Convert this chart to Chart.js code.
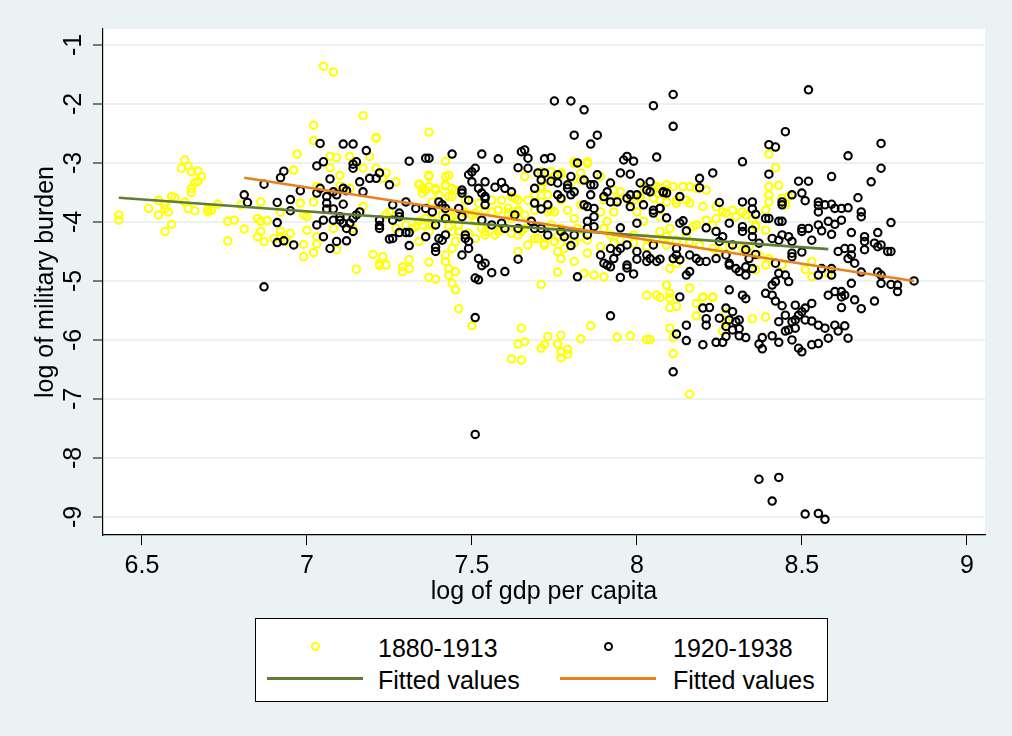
<!DOCTYPE html>
<html>
<head>
<meta charset="utf-8">
<script src="https://cdn.jsdelivr.net/npm/chart.js@4.4.1/dist/chart.umd.min.js"></script>
<style>
  html, body { margin: 0; padding: 0; background: #eaf2f3; }
  #wrap { position: relative; width: 1012px; height: 736px; }
  #chart { position: absolute; left: 0; top: 0; }
  .legend { position: absolute; left: 255px; top: 618px; width: 573px; height: 84px;
            background: #fff; border: 1px solid #000; box-sizing: border-box;
            font-family: "Liberation Sans", Arial, sans-serif; font-size: 25px; color: #000; }
  .lg { position: absolute; line-height: 30px; white-space: nowrap; }
  .ring { position: absolute; width: 5px; height: 5px; border-radius: 50%; border: 2px solid; }
  .key { position: absolute; height: 3px; width: 96px; }
</style>
</head>
<body>
<div id="wrap">
  <canvas id="chart" width="1012" height="736"></canvas>
  <div class="legend">
    <div class="ring" style="left:55px;top:23px;border-color:#ffff00"></div>
    <div class="lg" style="left:122px;top:14px">1880-1913</div>
    <div class="ring" style="left:348px;top:23px;border-color:#000"></div>
    <div class="lg" style="left:417px;top:14px">1920-1938</div>
    <div class="key" style="left:11px;top:58px;background:#5f7d33"></div>
    <div class="lg" style="left:122px;top:46px">Fitted values</div>
    <div class="key" style="left:304px;top:58px;background:#e8821e"></div>
    <div class="lg" style="left:417px;top:46px">Fitted values</div>
  </div>
</div>
<script>
// log gdp per capita vs log military burden, 1880-1913
const pts1880 = [
  [7.05,-1.36],[7.08,-1.46],[7.17,-2.20],[7.02,-2.36],[7.21,-2.58],[7.02,-2.62],[6.97,-2.85],[6.96,-3.12],
  [7.07,-2.89],[7.09,-2.91],[7.13,-2.89],[7.19,-2.89],[7.10,-3.21],[7.17,-3.09],[7.07,-3.08],
  [6.63,-2.95],[6.62,-3.09],[6.64,-3.05],[6.65,-3.15],[6.67,-3.14],[6.68,-3.23],[6.67,-3.31],[6.66,-3.34],
  [6.65,-3.43],[6.65,-3.50],[6.55,-3.63],[6.59,-3.57],[6.60,-3.59],[6.57,-3.71],[6.57,-3.78],[6.58,-3.83],
  [6.55,-3.88],[6.52,-3.77],[6.59,-4.04],[6.57,-4.16],[6.43,-3.88],[6.43,-3.97],
  [6.63,-3.66],[6.64,-3.77],[6.66,-3.81],[6.70,-3.78],[6.70,-3.83],[6.71,-3.80],[6.73,-3.70],
  [6.76,-3.99],[6.78,-3.97],[6.76,-4.32],[6.81,-4.12],[6.80,-3.71],[6.86,-3.66],[6.85,-3.94],[6.86,-3.99],
  [6.88,-3.98],[6.85,-4.25],[6.86,-4.16],[6.87,-4.33],[6.90,-4.28],[6.92,-4.16],[6.92,-3.83],[6.92,-4.25],
  [6.95,-4.19],[6.94,-4.33],[6.98,-3.68],[6.99,-3.88],[7.00,-3.91],[7.02,-3.66],[6.99,-4.59],[7.02,-4.52],
  [6.99,-4.38],[7.03,-4.37],[7.03,-4.25],[7.00,-4.14],[7.08,-4.11],[7.09,-4.47],[7.14,-4.11],[7.17,-3.74],
  [7.15,-4.80],[7.20,-4.55],[7.22,-4.74],[7.03,-3.40],[7.10,-3.39],[7.13,-3.43],
  [7.37,-2.48],[7.21,-2.57],[7.42,-2.97],[7.37,-3.21],[7.37,-3.23],[7.43,-3.21],[7.34,-3.36],[7.35,-3.43],
  [7.36,-3.46],[7.39,-3.43],[7.42,-3.37],[7.43,-3.57],[7.44,-3.43],[7.40,-3.54],[7.38,-3.66],
  [7.34,-3.99],[7.36,-3.94],[7.38,-4.05],[7.41,-3.88],[7.43,-3.83],[7.45,-3.88],[7.46,-4.05],[7.48,-3.83],
  [7.50,-3.88],[7.51,-3.99],[7.56,-3.83],[7.58,-3.80],[7.61,-3.77],[7.64,-3.83],[7.62,-3.94],[7.59,-4.11],
  [7.57,-4.22],[7.54,-4.22],[7.53,-4.11],[7.51,-4.28],[7.45,-4.33],[7.44,-4.16],[7.37,-4.16],[7.34,-4.33],
  [7.32,-4.11],[7.27,-4.11],[7.30,-4.05],[7.24,-3.88],[7.25,-3.83],
  [7.44,-4.45],[7.42,-4.56],[7.43,-4.79],[7.45,-4.84],[7.43,-4.90],[7.45,-5.15],[7.42,-4.67],[7.37,-4.68],
  [7.31,-4.64],[7.29,-4.76],[7.31,-4.79],[7.29,-4.84],[7.23,-4.59],[7.22,-4.70],[7.24,-4.73],[7.37,-4.94],
  [7.39,-4.97],[7.44,-5.04],[7.71,-5.06],[7.76,-4.85],[7.85,-4.53],[7.84,-4.87],[7.87,-4.90],[7.90,-4.93],
  [7.81,-4.67],[7.77,-4.62],[7.75,-4.33],[7.76,-4.50],[7.78,-4.45],[7.64,-4.50],[7.67,-4.39],[7.70,-4.28],
  [7.72,-4.39],[7.63,-3.60],[7.66,-3.23],[7.74,-3.15],[7.77,-3.17],[7.83,-3.17],[7.85,-2.98],[7.81,-2.98],
  [7.71,-3.43],[7.73,-3.54],[7.69,-3.54],[7.71,-3.66],[7.79,-3.80],[7.83,-3.71],[7.89,-3.83],[7.91,-3.99],
  [7.93,-3.83],[7.95,-3.49],[7.98,-3.66],[8.01,-3.60],[8.00,-3.83],[8.02,-3.99],[7.99,-4.22],[7.95,-4.31],
  [7.92,-4.22],[7.90,-4.11],[7.82,-4.11],[7.77,-4.11],[7.74,-4.05],[7.66,-4.11],[7.64,-4.22],[7.81,-3.94],
  [7.75,-3.83],[7.73,-3.83],[7.21,-3.09],[7.24,-3.17],[7.23,-3.26],[7.27,-3.32],
  [7.34,-3.37],[7.37,-3.40],[7.35,-3.51],[7.39,-3.46],[7.42,-3.23],[7.42,-3.39],[7.44,-3.57],[7.45,-3.46],
  [7.48,-3.63],[7.52,-3.68],[7.56,-3.63],[7.59,-3.63],[7.62,-3.57],[7.64,-3.63],[7.58,-3.80],[7.61,-3.85],
  [7.64,-3.80],[7.66,-3.88],[7.54,-3.80],[7.51,-3.85],[7.48,-3.85],[7.44,-3.91],[7.41,-3.88],[7.38,-3.97],
  [7.35,-4.05],[7.33,-4.08],[7.43,-4.08],[7.46,-4.16],[7.49,-4.19],[7.54,-4.16],[7.58,-4.16],[7.62,-4.19],
  [7.65,-4.16],[7.69,-4.28],[7.72,-4.36],[7.76,-4.25],[7.79,-4.31],[7.81,-4.36],[7.83,-4.25],[7.85,-4.31],
  [7.89,-4.42],[7.93,-4.36],[7.99,-4.36],[8.03,-4.42],[8.06,-4.31],[8.09,-4.25],[8.12,-4.31],[8.15,-4.25],
  [8.17,-4.08],[8.15,-3.63],[8.12,-3.63],[8.09,-3.46],[8.06,-3.40],[8.07,-3.63],[8.01,-3.57],[7.99,-3.63],
  [7.94,-3.63],[7.93,-3.46],[7.90,-3.63],[7.71,-3.40],[7.73,-3.29],[7.75,-3.23],[7.77,-3.20],[7.80,-3.34],
  [7.83,-3.29],[7.85,-3.01],[7.81,-3.01],[7.71,-3.15],[7.89,-3.23],[7.77,-3.63],[7.74,-3.80],[7.67,-3.63],
  [7.69,-3.80],
  [7.46,-5.47],[7.50,-5.76],[7.65,-5.80],[7.64,-6.07],[7.66,-6.03],[7.62,-6.32],[7.65,-6.34],[7.71,-6.14],
  [7.72,-6.08],[7.73,-5.94],[7.76,-6.07],[7.77,-5.92],[7.77,-6.20],[7.79,-6.16],[7.77,-6.30],[7.79,-6.24],
  [7.83,-5.98],[7.86,-5.76],[7.94,-5.95],[7.98,-5.93],[8.03,-5.99],
  [8.40,-2.85],[8.42,-3.08],[8.40,-3.40],[8.43,-3.38],[8.40,-3.54],[8.40,-3.66],[8.44,-3.60],[8.45,-3.71],
  [8.39,-3.80],[8.46,-3.57],[8.02,-3.40],[8.05,-3.46],[8.07,-3.43],[8.09,-3.37],[8.11,-3.40],[8.14,-3.40],
  [8.16,-3.40],[8.18,-3.43],[8.21,-3.46],[8.05,-3.60],[8.09,-3.66],[8.12,-3.68],[8.16,-3.68],[8.20,-3.74],
  [8.24,-3.74],[8.26,-3.83],[8.29,-3.80],[8.32,-3.83],[8.07,-3.91],[8.10,-4.11],[8.07,-4.16],[8.03,-4.28],
  [8.09,-4.39],[8.12,-4.31],[8.18,-4.05],[8.21,-3.97],[8.23,-4.05],[8.24,-3.94],[8.27,-3.85],[8.30,-3.91],
  [8.33,-3.88],[8.16,-4.33],[8.19,-4.39],[8.23,-4.45],[8.25,-4.50],[8.28,-4.42],[8.32,-4.45],[8.34,-4.42],
  [8.37,-4.56],[8.39,-4.73],[8.36,-4.81],[8.40,-4.62],[8.44,-4.73],[8.53,-4.67],[8.51,-4.81],[8.53,-4.93],
  [8.58,-4.87],[8.12,-4.70],[8.10,-4.79],[8.09,-5.07],[8.06,-5.24],[8.20,-5.27],[8.23,-5.27],[8.16,-5.12],
  [8.03,-5.24],[8.10,-5.21],[8.35,-3.94],[8.36,-4.08],[8.39,-4.14],[8.36,-4.05],
  [8.07,-5.28],[8.10,-5.29],[8.12,-5.43],[8.10,-5.45],[8.18,-5.38],[8.20,-5.28],[8.23,-5.28],[8.18,-5.59],
  [8.10,-5.80],[8.11,-5.96],[8.04,-5.99],[8.11,-6.23],[8.16,-6.92],[8.26,-5.85],[8.35,-5.64],[8.39,-5.61],
  [8.27,-5.55],[8.27,-5.69]
];

// 1920-1938
const pts1920 = [
  [7.04,-2.67],[7.11,-2.68],[7.14,-2.68],[7.18,-2.79],[7.05,-2.98],[7.03,-3.05],[7.14,-3.02],[7.14,-3.09],
  [7.15,-2.98],[6.93,-3.14],[6.92,-3.25],[6.87,-3.36],[7.07,-3.27],[7.16,-3.32],[7.19,-3.26],[7.22,-3.17],
  [6.98,-3.47],[7.17,-3.49],[6.81,-3.54],[6.82,-3.67],[6.91,-3.67],[6.95,-3.62],[6.95,-3.81],[6.91,-4.01],
  [6.91,-4.35],[6.93,-4.32],[6.96,-4.39],[7.03,-3.51],[7.04,-3.43],[7.06,-3.57],[7.06,-3.68],[7.08,-3.49],
  [7.09,-3.54],[7.11,-3.43],[7.12,-3.47],[7.11,-3.70],[7.06,-3.78],[7.08,-3.78],[7.10,-3.91],[7.05,-3.97],
  [7.03,-4.05],[7.08,-3.97],[7.10,-3.97],[7.11,-4.02],[7.13,-4.02],[7.14,-3.94],[7.16,-3.83],[7.15,-3.88],
  [7.12,-4.11],[7.14,-4.16],[7.12,-4.32],[7.09,-4.33],[7.05,-4.25],[7.07,-4.45],[7.22,-3.97],[7.22,-4.11],
  [6.87,-5.10],
  [7.75,-1.95],[7.80,-1.95],[7.84,-2.10],[7.81,-2.53],[7.88,-2.53],[7.86,-2.68],[7.31,-2.97],[7.36,-2.92],
  [7.37,-2.92],[7.44,-2.85],[7.53,-2.85],[7.58,-2.93],[7.65,-2.81],[7.66,-2.78],[7.67,-2.92],[7.72,-2.93],
  [7.74,-2.91],[7.64,-3.08],[7.67,-3.09],[7.96,-2.95],[7.97,-2.89],[7.99,-2.97],[7.82,-3.00],[7.25,-3.37],
  [7.21,-3.26],[7.49,-3.20],[7.50,-3.15],[7.51,-3.09],[7.50,-3.32],[7.54,-3.32],[7.57,-3.41],[7.59,-3.33],
  [7.60,-3.43],[7.62,-3.49],[7.52,-3.43],[7.53,-3.51],[7.54,-3.57],[7.47,-3.46],[7.47,-3.51],[7.49,-3.63],
  [7.70,-3.17],[7.72,-3.17],[7.74,-3.31],[7.71,-3.29],[7.76,-3.20],[7.76,-3.34],[7.69,-3.43],[7.76,-3.54],
  [7.77,-3.60],[7.79,-3.43],[7.79,-3.37],[7.80,-3.23],[7.84,-3.29],[7.86,-3.37],[7.88,-3.20],[7.92,-3.34],
  [7.95,-3.17],[7.98,-3.19],[8.01,-3.34],[8.03,-3.46],[7.98,-3.54],[8.00,-3.54],[7.97,-3.60],[7.98,-3.74],
  [8.02,-3.71],[8.00,-4.02],[7.95,-4.10],[7.92,-3.66],[7.91,-3.49],[7.94,-3.66],[7.90,-3.57],[7.87,-3.37],
  [7.86,-3.54],[7.84,-3.71],[7.85,-3.74],[7.87,-3.77],[7.87,-3.91],[7.85,-3.99],[7.85,-4.11],[7.87,-4.08],
  [7.80,-3.54],[7.81,-3.49],
  [7.26,-3.71],[7.30,-3.66],[7.33,-3.77],[7.36,-3.77],[7.38,-3.83],[7.40,-3.66],[7.41,-3.71],[7.42,-3.77],
  [7.46,-3.77],[7.47,-3.91],[7.42,-3.94],[7.39,-4.05],[7.22,-4.06],[7.26,-3.97],[7.28,-3.91],[7.28,-3.85],
  [7.25,-4.29],[7.26,-4.28],[7.28,-4.18],[7.30,-4.18],[7.31,-4.18],[7.31,-4.40],[7.36,-4.25],[7.39,-4.50],
  [7.39,-4.43],[7.40,-4.28],[7.41,-4.31],[7.42,-4.22],[7.48,-4.28],[7.49,-4.33],[7.48,-4.22],[7.49,-4.45],
  [7.47,-4.56],[7.52,-4.62],[7.53,-4.74],[7.54,-4.70],[7.56,-4.86],[7.51,-4.95],[7.52,-4.98],[7.60,-4.84],
  [7.64,-4.63],[7.63,-3.88],[7.69,-4.11],[7.68,-3.99],[7.71,-4.11],[7.73,-4.22],[7.69,-3.68],[7.73,-3.71],
  [7.71,-3.78],[7.54,-3.71],[7.54,-3.60],[7.56,-4.05],[7.53,-3.97],[7.59,-4.02],[7.60,-4.11],[7.64,-4.11],
  [7.77,-4.16],[7.78,-4.25],[7.80,-4.40],[7.82,-4.93],[7.81,-4.22],[7.85,-4.22],[7.89,-4.56],[7.90,-4.70],
  [7.91,-4.73],[7.92,-4.76],[7.92,-4.45],[7.93,-4.62],[7.94,-4.50],[7.95,-4.45],[7.97,-4.39],[8.00,-4.50],
  [7.97,-4.73],[7.97,-4.78],[7.95,-4.94],[7.99,-4.88],[8.00,-4.63],[8.03,-4.67],[8.03,-4.56],
  [7.51,-5.62],[7.92,-5.59],[7.51,-7.60],
  [8.52,-1.76],[8.11,-1.84],[8.05,-2.03],[8.11,-2.38],[8.06,-2.90],[8.45,-2.47],[8.40,-2.69],[8.42,-2.73],
  [8.32,-2.98],[8.74,-2.67],[8.64,-2.88],[8.74,-3.09],[8.40,-3.19],[8.23,-3.17],[8.19,-3.26],[8.49,-3.31],
  [8.52,-3.31],[8.59,-3.23],[8.71,-3.32],[8.19,-3.42],[8.04,-3.32],[8.04,-3.49],[8.08,-3.49],[8.09,-3.51],
  [8.13,-3.57],[8.25,-3.67],[8.32,-3.66],[8.35,-3.66],[8.35,-3.78],[8.36,-3.87],[8.44,-3.66],[8.44,-3.71],
  [8.47,-3.54],[8.50,-3.51],[8.51,-3.64],[8.55,-3.66],[8.55,-3.72],[8.57,-3.71],[8.59,-3.70],[8.60,-3.77],
  [8.62,-3.77],[8.64,-3.76],[8.55,-3.83],[8.55,-4.05],[8.58,-3.99],[8.60,-4.04],[8.56,-4.15],[8.59,-4.21],
  [8.62,-3.97],[8.67,-3.59],[8.68,-3.83],[8.68,-3.91],[8.77,-4.01],[8.65,-4.18],[8.73,-4.18],[8.69,-4.25],
  [8.69,-4.33],[8.69,-4.47],[8.72,-4.36],[8.73,-4.42],[8.74,-4.39],[8.76,-4.50],[8.77,-4.50],[8.61,-4.50],
  [8.63,-4.45],[8.65,-4.45],[8.65,-4.56],[8.64,-4.62],[8.66,-4.70],[8.50,-4.11],[8.52,-4.11],[8.50,-4.16],
  [8.53,-4.31],[8.47,-4.33],[8.47,-4.53],[8.47,-4.59],[8.50,-4.51],[8.39,-3.94],[8.40,-3.94],[8.43,-3.99],
  [8.44,-3.99],[8.44,-4.22],[8.41,-4.28],[8.43,-4.31],[8.46,-4.25],[8.28,-4.02],[8.32,-4.08],[8.32,-4.16],
  [8.35,-4.14],[8.35,-4.25],[8.37,-4.36],[8.36,-4.55],[8.33,-4.47],[8.34,-4.62],[8.24,-4.16],[8.26,-4.25],
  [8.25,-4.33],[8.29,-4.39],[8.27,-4.56],[8.24,-4.62],[8.28,-4.70],[8.21,-4.10],[8.15,-4.15],[8.14,-3.98],
  [8.13,-4.02],[8.09,-3.93],[8.08,-3.50],[8.07,-3.77],[8.05,-3.80],[8.07,-3.77],[8.05,-3.85],[8.12,-4.45],
  [8.12,-4.56],[8.11,-4.62],[8.13,-4.64],[8.16,-4.56],[8.18,-4.62],[8.19,-4.67],[8.16,-4.84],[8.15,-4.90],
  [8.21,-4.67],[8.05,-4.39],[8.04,-4.62],[8.06,-4.67],[8.07,-4.63],[8.28,-4.73],[8.30,-4.79],[8.31,-4.84],
  [8.33,-4.76],[8.33,-4.90],[8.35,-4.79],[8.42,-4.70],[8.43,-4.87],[8.45,-4.90],[8.46,-5.01],[8.42,-5.01],
  [8.41,-5.07],[8.56,-4.79],[8.59,-4.79],[8.59,-4.90],[8.55,-4.90],[8.65,-5.04],[8.68,-4.85],[8.73,-4.85],
  [8.74,-4.90],[8.74,-5.04],[8.77,-5.06],[8.79,-5.07],[8.79,-5.18],[8.58,-5.24],[8.60,-5.18],[8.62,-5.18],
  [8.63,-5.24],[8.28,-5.15],[8.32,-5.24],[8.39,-5.21],[8.41,-5.24],[8.84,-5.00],
  [8.13,-5.27],[8.20,-5.46],[8.22,-5.45],[8.21,-5.64],[8.21,-5.75],[8.15,-5.75],[8.12,-5.90],[8.15,-6.01],
  [8.20,-6.08],[8.11,-6.54],[8.24,-6.04],[8.26,-6.04],[8.27,-5.94],[8.31,-5.93],[8.33,-5.96],[8.27,-5.46],
  [8.29,-5.52],[8.25,-5.63],[8.28,-5.66],[8.30,-5.69],[8.31,-5.66],[8.29,-5.83],[8.31,-5.81],[8.27,-5.77],
  [8.33,-5.30],[8.37,-6.07],[8.38,-5.96],[8.38,-6.15],[8.41,-5.93],[8.43,-6.04],[8.47,-6.00],[8.42,-5.34],
  [8.44,-5.42],[8.43,-5.69],[8.45,-5.85],[8.46,-5.83],[8.45,-5.58],[8.47,-5.69],[8.48,-5.41],[8.50,-5.52],
  [8.51,-5.46],[8.48,-5.80],[8.49,-6.14],[8.50,-6.20],[8.53,-6.08],[8.55,-6.06],[8.53,-5.38],[8.51,-5.66],
  [8.48,-5.66],[8.49,-5.58],[8.53,-5.68],[8.55,-5.75],[8.57,-5.80],[8.58,-5.97],[8.60,-5.75],[8.61,-5.85],
  [8.63,-5.76],[8.64,-5.97],[8.62,-5.27],[8.62,-5.45],[8.66,-5.32],[8.68,-5.47],[8.72,-5.34],
  [8.37,-8.36],[8.43,-8.33],[8.41,-8.73],[8.51,-8.95],[8.55,-8.94],[8.57,-9.04]
];

// fitted values (end points of each regression line)
const fit1880Gdp = [6.43, 8.58];
const fit1880Mil = [-3.59, -4.46];
const fit1920Gdp = [6.81, 8.84];
const fit1920Mil = [-3.25, -5.00];

const xTicks = [6.5, 7, 7.5, 8, 8.5, 9];
const yTicks = [-1, -2, -3, -4, -5, -6, -7, -8, -9];

const FONT = "'Liberation Sans', Arial, sans-serif";
const toXY = arr => arr.map(p => ({ x: p[0], y: p[1] }));
const fitLine = (gx, gy) => gx.map((v, i) => ({ x: v, y: gy[i] }));

// fondo gris-azulado y area blanca del grafico
const bgPlugin = {
  id: "bg",
  beforeDraw(chart) {
    const { ctx, chartArea: a } = chart;
    ctx.save();
    ctx.fillStyle = "#eaf2f3";
    ctx.fillRect(0, 0, chart.width, chart.height);
    ctx.fillStyle = "#ffffff";
    ctx.fillRect(a.left, a.top, a.right - a.left, a.bottom - a.top);
    ctx.restore();
  }
};

const ring = (color) => ({
  type: "scatter",
  pointStyle: "circle",
  pointRadius: 3.7,
  pointBorderWidth: 2.1,
  pointBorderColor: color,
  pointBackgroundColor: "rgba(0,0,0,0)",
  showLine: false
});

new Chart(document.getElementById("chart"), {
  type: "scatter",
  data: {
    datasets: [
      Object.assign(ring("#ffff00"), { label: "1880-1913", data: toXY(pts1880), order: 4 }),
      Object.assign(ring("#000000"), { label: "1920-1938", data: toXY(pts1920), order: 3 }),
      { type: "line", label: "Fitted values", data: fitLine(fit1880Gdp, fit1880Mil),
        borderColor: "#5f7d33", borderWidth: 2.6, pointRadius: 0, fill: false, order: 2 },
      { type: "line", label: "Fitted values", data: fitLine(fit1920Gdp, fit1920Mil),
        borderColor: "#e8821e", borderWidth: 2.6, pointRadius: 0, fill: false, order: 1 }
    ]
  },
  options: {
    responsive: false,
    animation: false,
    events: [],
    layout: { padding: { left: 0, top: 29, right: 27, bottom: 0 } },
    plugins: { legend: { display: false }, tooltip: { enabled: false } },
    scales: {
      x: {
        type: "linear",
        min: 6.382, max: 9.055,
        afterBuildTicks: s => { s.ticks = xTicks.map(v => ({ value: v })); },
        afterFit: s => { s.height = 201; },
        grid: { drawOnChartArea: false, tickColor: "#000", tickLength: 10, tickWidth: 1 },
        border: { color: "#000", width: 1.2 },
        ticks: { color: "#000", font: { family: FONT, size: 25 }, padding: 6,
                 maxRotation: 0, minRotation: 0, autoSkip: false,
                 callback: v => String(v) },
        title: { display: true, text: "log of gdp per capita", color: "#000",
                 font: { family: FONT, size: 25 }, padding: { top: 0, bottom: 129 } }
      },
      y: {
        type: "linear",
        min: -9.305, max: -0.73,
        afterBuildTicks: s => { s.ticks = yTicks.map(v => ({ value: v })); },
        afterFit: s => { s.width = 103; },
        grid: { color: "#eaf2f3", lineWidth: 2, tickColor: "#000", tickLength: 10, tickWidth: 1 },
        border: { color: "#000", width: 1.2 },
        ticks: { color: "#000", font: { family: FONT, size: 25 }, padding: 8,
                 minRotation: 90, maxRotation: 90, crossAlign: "center", autoSkip: false,
                 callback: v => String(v) },
        title: { display: true, text: "log of military burden", color: "#000",
                 font: { family: FONT, size: 25 }, padding: { top: 31, bottom: 0 } }
      }
    }
  },
  plugins: [bgPlugin]
});
</script>
</body>
</html>
